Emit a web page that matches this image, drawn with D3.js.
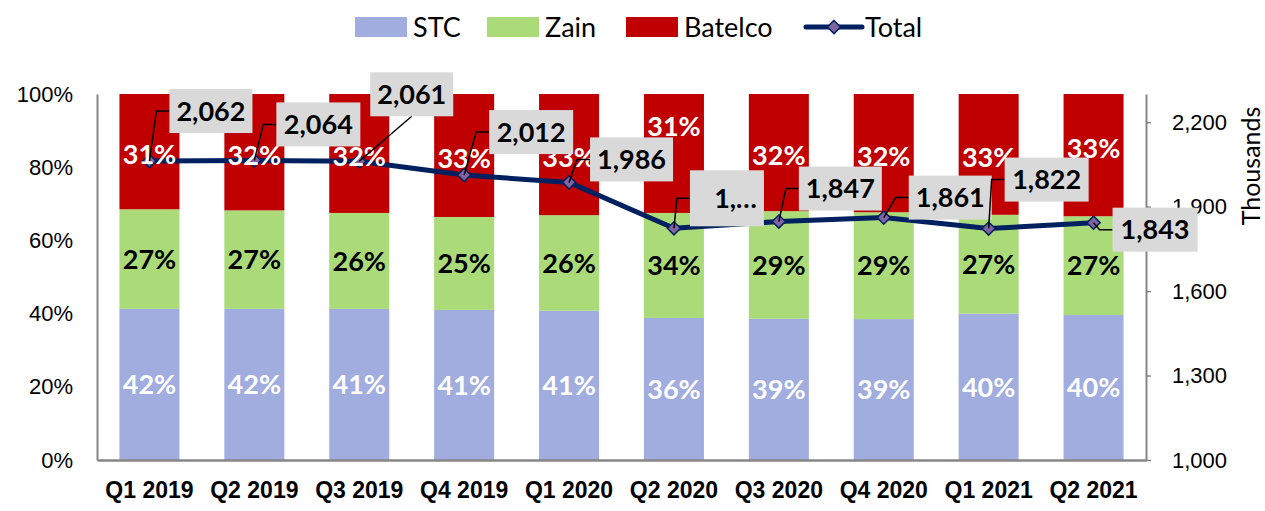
<!DOCTYPE html>
<html>
<head>
<meta charset="utf-8">
<script src="https://cdn.jsdelivr.net/npm/d3@7"></script>
<style>
  body { margin: 0; background: #fff; }
  svg { font-family: Lato, "Open Sans", sans-serif; }
  .axis path, .axis line { stroke: #868686; }
  .axis text { fill: #000; }
</style>
</head>
<body>
<div class="content"></div>
<script>
var svgWidth = 1265;
var svgHeight = 511;

// Quarters on the x axis.
var quarters = ["Q1 2019", "Q2 2019", "Q3 2019", "Q4 2019", "Q1 2020",
                "Q2 2020", "Q3 2020", "Q4 2020", "Q1 2021", "Q2 2021"];

// Market shares (%), as drawn.
var stcShare     = [41.3, 41.3, 41.3, 41.0, 40.8, 38.8, 38.6, 38.5, 40.0, 39.6];
var zainShare    = [27.2, 26.9, 26.2, 25.4, 26.1, 28.7, 29.4, 29.2, 27.0, 27.0];
var batelcoShare = [31.5, 31.8, 32.5, 33.6, 33.1, 32.5, 32.0, 32.3, 33.0, 33.4];

// Data label texts as printed on the chart.
var stcLabels     = ["42%", "42%", "41%", "41%", "41%", "36%", "39%", "39%", "40%", "40%"];
var zainLabels    = ["27%", "27%", "26%", "25%", "26%", "34%", "29%", "29%", "27%", "27%"];
var batelcoLabels = ["31%", "32%", "32%", "33%", "33%", "31%", "32%", "32%", "33%", "33%"];

// Total subscriptions (thousands).
var totals      = [2062, 2064, 2061, 2012, 1986, 1823, 1847, 1861, 1822, 1843];
var totalLabels = ["2,062", "2,064", "2,061", "2,012", "1,986", "1,\u2026", "1,847", "1,861", "1,822", "1,843"];

// Axis ticks.
var leftTicks  = [0, 0.2, 0.4, 0.6, 0.8, 1];
var rightTicks = [1000, 1300, 1600, 1900, 2200];

var seriesNames = ["STC", "Zain", "Batelco"];
var colors = { "STC": "#a1acdf", "Zain": "#aadb78", "Batelco": "#c00000" };
var labelColors = { "STC": "#fff", "Zain": "#000", "Batelco": "#fff" };

// Callout placement relative to each marker (dragged labels): dx, dy, width, height.
var callouts = [
  [20, -72, 83, 44], [22, -58, 84, 44], [11, -89, 83, 44], [25, -65, 84, 44], [21, -45, 83, 44],
  [16, -58, 74, 56], [20, -55, 83, 44], [25, -42, 83, 44], [16, -71, 84, 44], [19, -15, 85, 44]
];
// Vertical nudge of the Batelco labels (a few were dragged in the original).
var batelcoNudge = [3, 3, 3, 3, 3, -27, 3, 3, 3, -7];

var margin = { left: 97, right: 1146, top: 94, bottom: 460 };

var svg = d3.select(".content")
  .append("svg")
  .attr("width", svgWidth)
  .attr("height", svgHeight);

var x = d3.scaleBand()
  .domain(quarters)
  .range([margin.left, margin.right])
  .paddingInner(0.428)
  .paddingOuter(0.214);

var y = d3.scaleLinear().domain([0, 1]).range([margin.bottom, margin.top]);
var yR = d3.scaleLinear().domain([1000, 2300]).range([margin.bottom, margin.top]);

// Build the table for the stack.
var table = quarters.map(function(q, i) {
  return { quarter: q, STC: stcShare[i], Zain: zainShare[i], Batelco: batelcoShare[i], i: i };
});
var labelTable = { "STC": stcLabels, "Zain": zainLabels, "Batelco": batelcoLabels };

var stacked = d3.stack()
  .keys(seriesNames)
  .offset(d3.stackOffsetExpand)(table);

// Bars.
var layers = svg.append("g").selectAll("g")
  .data(stacked)
  .enter().append("g")
  .attr("fill", function(d) { return colors[d.key]; });

layers.selectAll("rect")
  .data(function(d) { return d; })
  .enter().append("rect")
  .attr("x", function(d) { return x(d.data.quarter); })
  .attr("width", x.bandwidth())
  .attr("y", function(d) { return y(d[1]); })
  .attr("height", function(d) { return y(d[0]) - y(d[1]); });

// Axes.
svg.append("g")
  .attr("class", "axis")
  .attr("transform", "translate(" + margin.left + ",0)")
  .call(d3.axisLeft(y).tickValues(leftTicks).tickFormat(d3.format(".0%")).tickSize(0).tickPadding(24))
  .call(function(g) { g.select(".domain").attr("stroke-width", 2); })
  .selectAll("text").style("font-size", "22px");

svg.append("g")
  .attr("class", "axis")
  .attr("transform", "translate(" + margin.right + ",0)")
  .call(d3.axisRight(y.copy()).tickValues([]).tickSize(0))
  .call(function(g) { g.select(".domain").attr("stroke-width", 2); });

svg.append("g")
  .attr("class", "axis")
  .attr("transform", "translate(" + margin.right + ",0)")
  .call(d3.axisRight(yR).tickValues(rightTicks).tickFormat(d3.format(",")).tickSize(5).tickPadding(21))
  .call(function(g) { g.select(".domain").remove(); g.selectAll("line").attr("stroke-width", 1.5); })
  .selectAll("text").style("font-size", "22px");

svg.append("g")
  .attr("class", "axis")
  .attr("transform", "translate(0," + margin.bottom + ")")
  .call(d3.axisBottom(x).tickSize(0).tickPadding(22))
  .call(function(g) { g.select(".domain").attr("stroke-width", 2.5); })
  .selectAll("text").style("font-size", "23px").style("font-weight", "bold");

svg.append("text")
  .attr("transform", "translate(1260,166) rotate(-90)")
  .attr("text-anchor", "middle")
  .style("font-size", "25px")
  .text("Thousands");

// Total line.
var line = d3.line()
  .x(function(d, i) { return x(quarters[i]) + x.bandwidth() / 2; })
  .y(function(d) { return yR(d); });

svg.append("path")
  .datum(totals)
  .attr("fill", "none")
  .attr("stroke", "#002060")
  .attr("stroke-width", 5)
  .attr("stroke-linejoin", "round")
  .attr("d", line);

var diamond = d3.symbol().type(d3.symbolDiamond2).size(110);

svg.append("g").selectAll("path")
  .data(totals)
  .enter().append("path")
  .attr("d", diamond)
  .attr("transform", function(d, i) {
    return "translate(" + (x(quarters[i]) + x.bandwidth() / 2) + "," + yR(d) + ")";
  })
  .attr("fill", "#8064a2")
  .attr("stroke", "#002060")
  .attr("stroke-width", 1.5);

// Percentage labels inside the bars (drawn above the line, like Excel data labels).
var labelLayer = svg.append("g");
stacked.forEach(function(layer) {
  labelLayer.append("g").selectAll("text")
    .data(layer)
    .enter().append("text")
    .attr("x", function(d) { return x(d.data.quarter) + x.bandwidth() / 2; })
    .attr("y", function(d, i) {
      var mid = (y(d[0]) + y(d[1])) / 2;
      if (layer.key === "Batelco") mid += batelcoNudge[i];
      return mid;
    })
    .attr("dy", "0.36em")
    .attr("text-anchor", "middle")
    .attr("fill", labelColors[layer.key])
    .style("font-size", "27px")
    .style("font-weight", "bold")
    .text(function(d, i) { return labelTable[layer.key][i]; });
});

// Callouts for the totals.
var calloutG = svg.append("g").selectAll("g")
  .data(totals)
  .enter().append("g");

calloutG.each(function(d, i) {
  var g = d3.select(this);
  var mx = x(quarters[i]) + x.bandwidth() / 2;
  var my = yR(d);
  var c = callouts[i];
  var bx = mx + c[0], by = my + c[1], bw = c[2], bh = c[3];
  var pts;
  if (i === 2) {
    pts = [[mx, my], [bx + bw / 2, by + bh]];
  } else {
    pts = [[mx, my], [bx - 13, by + bh / 2], [bx, by + bh / 2]];
  }
  g.append("path")
    .attr("d", d3.line()(pts))
    .attr("fill", "none")
    .attr("stroke", "#000")
    .attr("stroke-width", 1.5);
  g.append("rect")
    .attr("x", bx).attr("y", by)
    .attr("width", bw).attr("height", bh)
    .attr("fill", "#d9d9d9");
  g.append("text")
    .attr("x", i === 5 ? bx + bw - 7 : bx + bw / 2)
    .attr("y", by + bh / 2)
    .attr("dy", "0.36em")
    .attr("text-anchor", i === 5 ? "end" : "middle")
    .style("font-size", "27px")
    .style("font-weight", "bold")
    .text(totalLabels[i]);
});

// Legend.
var legend = svg.append("g");
var legendItems = [
  { name: "STC", x: 355 }, { name: "Zain", x: 487 }, { name: "Batelco", x: 626 }
];
legendItems.forEach(function(d) {
  legend.append("rect")
    .attr("x", d.x).attr("y", 17)
    .attr("width", 52).attr("height", 20)
    .attr("fill", colors[d.name]);
  legend.append("text")
    .attr("x", d.x + 58).attr("y", 27)
    .attr("dy", "0.36em")
    .style("font-size", "27px")
    .text(d.name);
});
legend.append("line")
  .attr("x1", 806).attr("x2", 862).attr("y1", 27).attr("y2", 27)
  .attr("stroke", "#002060").attr("stroke-width", 5).attr("stroke-linecap", "round");
legend.append("path")
  .attr("d", diamond)
  .attr("transform", "translate(834,27)")
  .attr("fill", "#8064a2")
  .attr("stroke", "#002060")
  .attr("stroke-width", 1.5);
legend.append("text")
  .attr("x", 865).attr("y", 27)
  .attr("dy", "0.36em")
  .style("font-size", "27px")
  .text("Total");
</script>
</body>
</html>
